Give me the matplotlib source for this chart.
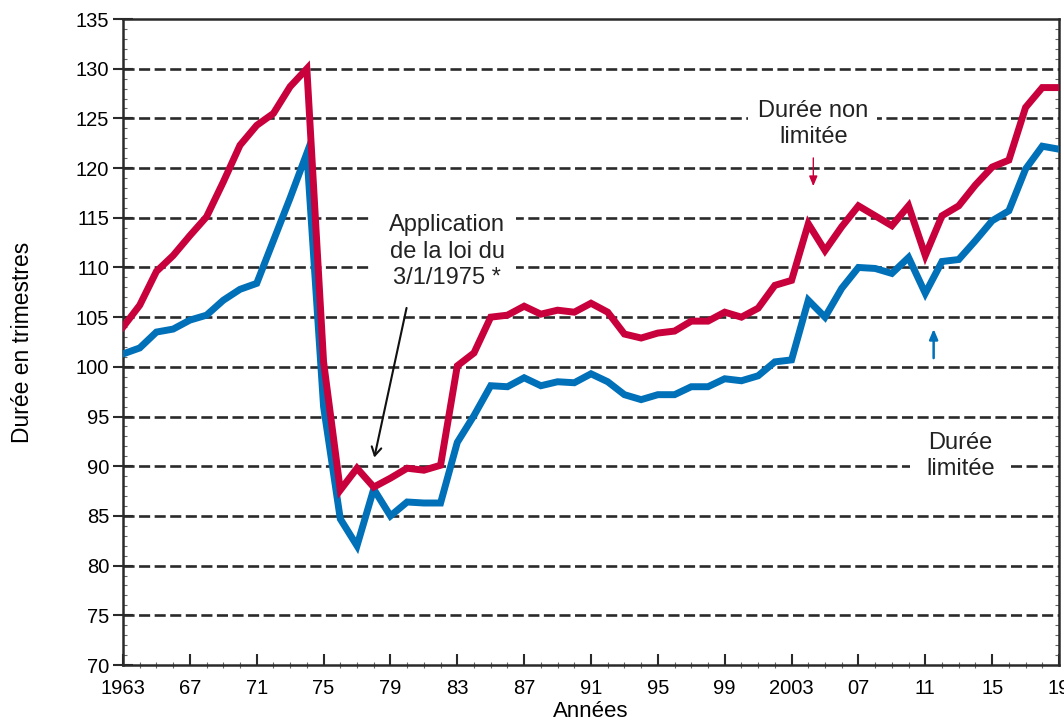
import matplotlib
matplotlib.use("Agg")
import matplotlib.pyplot as plt
from matplotlib.ticker import MultipleLocator, FixedLocator
from matplotlib.patches import Rectangle

plt.rcParams['font.family'] = ['Liberation Sans', 'DejaVu Sans']

years = list(range(1963, 2020))

non_limitee = [104.0, 106.2, 109.6, 111.2, 113.2, 115.1, 118.6, 122.3, 124.3, 125.5,
               128.2, 130.0, 100.5, 87.6, 89.8, 87.9, 88.8, 89.8, 89.6, 90.1,
               100.1, 101.4, 105.0, 105.2, 106.1, 105.3, 105.7, 105.5, 106.4, 105.5,
               103.3, 102.9, 103.4, 103.6, 104.6, 104.6, 105.5, 105.0, 105.9, 108.2,
               108.7, 114.4, 111.7, 114.1, 116.2, 115.2, 114.2, 116.2, 111.2, 115.2,
               116.2, 118.3, 120.1, 120.8, 126.1, 128.1, 128.1]

limitee = [101.3, 101.9, 103.5, 103.8, 104.7, 105.2, 106.7, 107.8, 108.4, 112.7,
           117.0, 121.5, 96.0, 84.7, 82.0, 87.7, 85.0, 86.4, 86.3, 86.3,
           92.4, 95.1, 98.1, 98.0, 98.9, 98.1, 98.5, 98.4, 99.3, 98.5,
           97.2, 96.7, 97.2, 97.2, 98.0, 98.0, 98.8, 98.6, 99.1, 100.5,
           100.7, 106.7, 105.0, 107.9, 110.0, 109.9, 109.4, 111.0, 107.4, 110.6,
           110.8, 112.7, 114.7, 115.7, 119.9, 122.2, 121.9]

xtick_years = [1963, 1967, 1971, 1975, 1979, 1983, 1987, 1991, 1995, 1999, 2003, 2007, 2011, 2015, 2019]
xtick_labels = ['1963', '67', '71', '75', '79', '83', '87', '91', '95', '99', '2003', '07', '11', '15', '19']
yticks = list(range(70, 136, 5))

RED = '#C8003C'
BLUE = '#0070B8'
DARK = '#2a2a2a'

fig = plt.figure(figsize=(10.64, 7.25), dpi=100)
ax = fig.add_axes([123/1064, 1-665/725, (1059-123)/1064, (665-19)/725])

# dashed grid
for v in yticks[1:-1]:
    ax.axhline(v, color=DARK, lw=1.9, dashes=(4.2, 1.7), zorder=1)

# white backgrounds behind annotation texts
for (x0, x1, y0, y1) in [(1977.9, 1986.5, 107.5, 117.0),
                         (2000.4, 2008.1, 123.0, 127.0),
                         (2010.1, 2016.1, 88.0, 92.0)]:
    ax.add_patch(Rectangle((x0, y0), x1 - x0, y1 - y0, fc='white', ec='none', zorder=2))

ax.plot(years, limitee, color=BLUE, lw=5, solid_joinstyle='miter', zorder=3)
ax.plot(years, non_limitee, color=RED, lw=5, solid_joinstyle='miter', zorder=4)

ax.set_xlim(1963, 2019)
ax.set_ylim(70, 135)
ax.xaxis.set_major_locator(FixedLocator(xtick_years))
ax.set_xticklabels(xtick_labels)
ax.xaxis.set_minor_locator(MultipleLocator(1))
ax.set_yticks(yticks)
ax.yaxis.set_minor_locator(MultipleLocator(1))

ax.tick_params(axis='x', which='major', direction='in', length=8, width=1.5, color=DARK,
               labelsize=14.5, pad=10)
ax.tick_params(axis='x', which='minor', direction='inout', length=4, width=0.8, color='#666')
ax.tick_params(axis='y', which='major', direction='inout', length=14, width=1.5, color=DARK,
               labelsize=14.5, pad=3)
ax.tick_params(axis='y', which='minor', direction='in', length=3, width=0.8, color='#666',
               right=True)
for s in ax.spines.values():
    s.set_linewidth(1.8)
    s.set_color(DARK)

ax.set_xlabel('Années', fontsize=16, labelpad=2)
ax.set_ylabel('Durée en trimestres', fontsize=16.5, labelpad=30)

ax.text(1982.4, 111.6, 'Application\nde la loi du\n3/1/1975 *', ha='center', va='center',
        fontsize=17, linespacing=1.25, color='#222', zorder=5)
ax.text(2004.3, 124.4, 'Durée non\nlimitée', ha='center', va='center',
        fontsize=17, linespacing=1.25, color='#222', zorder=5)
ax.text(2013.1, 91.0, 'Durée\nlimitée', ha='center', va='center',
        fontsize=17, linespacing=1.25, color='#222', zorder=5)

ax.annotate('', xy=(1978.0, 90.6), xytext=(1980.0, 106.2),
            arrowprops=dict(arrowstyle='->,head_length=0.6,head_width=0.35', color='#111', lw=1.5),
            zorder=6)
ax.annotate('', xy=(2004.3, 117.9), xytext=(2004.3, 121.3),
            arrowprops=dict(arrowstyle='-|>,head_length=0.6,head_width=0.25', color=RED, lw=1.0),
            zorder=6)
ax.annotate('', xy=(2011.5, 104.1), xytext=(2011.5, 100.6),
            arrowprops=dict(arrowstyle='-|>,head_length=0.6,head_width=0.25', color=BLUE, lw=1.8),
            zorder=6)

fig.savefig('out.png', dpi=100)
